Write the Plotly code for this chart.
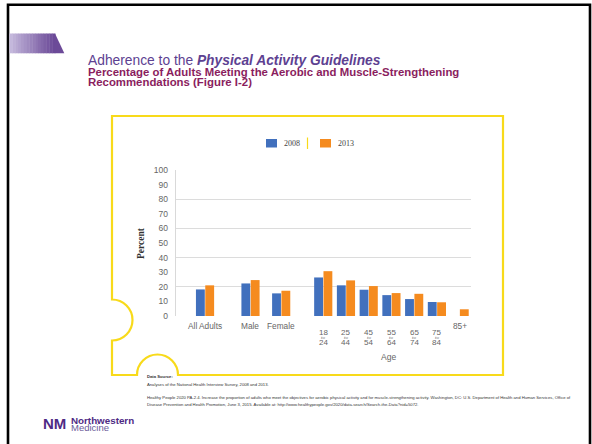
import plotly.graph_objects as go

# ---------------- data ----------------
categories = ["All Adults", "Male", "Female", "18 to 24", "25 to 44", "45 to 54",
              "55 to 64", "65 to 74", "75 to 84", "85+"]
years = ["2008", "2013"]
pct_2008 = [18.2, 22.3, 15.5, 26.4, 21.0, 18.0, 14.3, 11.6, 9.6, None]
pct_2013 = [21.0, 24.6, 17.3, 30.7, 24.4, 20.5, 15.7, 15.2, 9.4, 4.6]
label_top = ["All Adults", "Male", "Female", "18", "25", "45", "55", "65", "75", "85+"]
label_mid = ["", "", "", "to", "to", "to", "to", "to", "to", ""]
label_bot = ["", "", "", "24", "44", "54", "64", "74", "84", ""]
y_ticks = list(range(0, 101, 10))
grid_step = 20

# layout positions of the category slots on the x axis
x_slot = [0, 2, 3.35, 5.2, 6.2, 7.2, 8.2, 9.2, 10.2, 11.2]

# ---------------- geometry ----------------
W, H = 592, 444
ML, MR, MT, MB = 176, 121, 170, 128
PW = W - ML - MR
PH = H - MT - MB


def px(x):
    return (x - ML) / PW


def py(y):
    return (H - MB - y) / PH


BLUE = "#4170bd"
ORANGE = "#f58b1f"
YELLOW = "#f8da1a"
PURPLE = "#5d4191"
MAROON = "#8a1d5e"
SANS = "Liberation Sans, Arial, sans-serif"
SERIF = "Liberation Serif, Times New Roman, serif"
LBL = "#666666"

fig = go.Figure()
fig.add_trace(go.Bar(x=x_slot, y=pct_2008, name=years[0], marker_color=BLUE,
                     marker_line_width=0, showlegend=False,
                     customdata=categories, hovertemplate="%{customdata}: %{y}%<extra>2008</extra>"))
fig.add_trace(go.Bar(x=x_slot, y=pct_2013, name=years[1], marker_color=ORANGE,
                     marker_line_width=0, showlegend=False,
                     customdata=categories, hovertemplate="%{customdata}: %{y}%<extra>2013</extra>"))
# carrier for the labelled overlay axis (draws nothing)
fig.add_trace(go.Scatter(x=[x_slot[0]], y=[y_ticks[0]], yaxis="y2", mode="markers",
                         marker=dict(opacity=0, size=1), hoverinfo="skip", showlegend=False))

fig.update_layout(
    width=W, height=H,
    margin=dict(l=ML, r=MR, t=MT, b=MB, pad=0),
    paper_bgcolor="white", plot_bgcolor="white",
    barmode="group", bargap=0.18, bargroupgap=0.05,
    xaxis=dict(range=[-1.277, 11.70], showticklabels=False, showgrid=False,
               zeroline=False, showline=False, ticks="", automargin=False, fixedrange=True),
    yaxis=dict(range=[0, 100], dtick=grid_step, tick0=0, showgrid=True, gridcolor="#dcdcdc",
               gridwidth=1, zeroline=False, showticklabels=False,
               showline=True, linecolor="#d9d9d9", linewidth=1, ticks="",
               automargin=False, fixedrange=True),
    yaxis2=dict(range=[0, 100], overlaying="y", anchor="x", side="left",
                tickvals=y_ticks, showgrid=False, zeroline=False, showline=False, ticks="",
                ticklabelstandoff=7,
                tickfont=dict(family=SANS, size=8.5, color=LBL),
                automargin=False, fixedrange=True),
    showlegend=False,
)

shapes = []
annotations = []

# slide border
shapes.append(dict(type="rect", xref="paper", yref="paper",
                   x0=px(8), x1=px(590), y0=py(448), y1=py(4.7),
                   line=dict(color="black", width=2.6), fillcolor="rgba(0,0,0,0)"))

# purple banner with gradient (strips)
c0 = (196, 184, 220)
c1 = (108, 74, 152)
n = 16
xa, xb = 9.5, 55
for i in range(n):
    t = i / (n - 1)
    col = "rgb(%d,%d,%d)" % tuple(int(c0[k] + (c1[k] - c0[k]) * t) for k in range(3))
    x0 = xa + (xb - xa) * i / n
    x1 = xa + (xb - xa) * (i + 1) / n + 0.4
    shapes.append(dict(type="rect", xref="paper", yref="paper",
                       x0=px(x0), x1=px(x1), y0=py(53.3), y1=py(33.5),
                       line=dict(width=0), fillcolor=col))
shapes.append(dict(type="path", xref="paper", yref="paper",
                   path="M %f %f L %f %f L %f %f L %f %f Z" % (
                       px(54.8), py(33.5), px(55), py(33.5), px(64.3), py(53.3), px(54.8), py(53.3)),
                   line=dict(width=0), fillcolor="rgb(108,74,152)"))

# yellow frame with notches
r = 20.5
k = 0.5523 * r
bcx, bcy = 157.5, 375
lcx, lcy = 112, 320
pts = [
    ("M", [(112, 116)]),
    ("L", [(503, 116)]),
    ("L", [(503, 375)]),
    ("L", [(bcx + r, bcy)]),
    ("C", [(bcx + r, bcy - k), (bcx + k, bcy - r), (bcx, bcy - r)]),
    ("C", [(bcx - k, bcy - r), (bcx - r, bcy - k), (bcx - r, bcy)]),
    ("L", [(112, 375)]),
    ("L", [(112, lcy + r)]),
    ("C", [(lcx + k, lcy + r), (lcx + r, lcy + k), (lcx + r, lcy)]),
    ("C", [(lcx + r, lcy - k), (lcx + k, lcy - r), (lcx, lcy - r)]),
]
path = ""
for cmd, plist in pts:
    path += cmd + " " + " ".join("%f,%f" % (px(a), py(b)) for a, b in plist) + " "
path += "Z"
shapes.append(dict(type="path", xref="paper", yref="paper", path=path,
                   line=dict(color=YELLOW, width=2.2), fillcolor="rgba(0,0,0,0)"))

# manual legend
leg_x = [266, 320]
leg_cols = [BLUE, ORANGE]
for i, name in enumerate(years):
    shapes.append(dict(type="rect", xref="paper", yref="paper",
                       x0=px(leg_x[i]), x1=px(leg_x[i] + 11), y0=py(147.5), y1=py(139),
                       line=dict(width=0), fillcolor=leg_cols[i]))
    annotations.append(dict(text=name, xref="paper", yref="paper",
                            x=px(leg_x[i] + 15.5), y=py(143.5), xanchor="left", yanchor="middle",
                            showarrow=False, font=dict(family=SERIF, size=8, color="#444444")))
shapes.append(dict(type="line", xref="paper", yref="paper",
                   x0=px(307.5), x1=px(307.5), y0=py(149), y1=py(137.5),
                   line=dict(color=YELLOW, width=1.2)))

# x category labels
for i in range(len(categories)):
    if label_mid[i]:
        annotations.append(dict(text=label_top[i] + "<br>" + label_bot[i], xref="x", yref="paper",
                                x=x_slot[i], y=py(337.1), xanchor="center", yanchor="middle",
                                showarrow=False, font=dict(family=SANS, size=8, color=LBL)))
        annotations.append(dict(text="<i>" + label_mid[i] + "</i>", xref="x", yref="paper",
                                x=x_slot[i], y=py(337.6), xanchor="center", yanchor="middle",
                                showarrow=False,
                                font=dict(family=SERIF, size=5, color=LBL)))
    else:
        annotations.append(dict(text=label_top[i], xref="x", yref="paper", x=x_slot[i],
                                y=py(326), xanchor="center", yanchor="middle", showarrow=False,
                                font=dict(family=SANS, size=8.3, color=LBL)))

annotations.append(dict(text="Age", xref="paper", yref="paper", x=px(388), y=py(357.3),
                        xanchor="center", yanchor="middle", showarrow=False,
                        font=dict(family=SANS, size=8.5, color=LBL)))
annotations.append(dict(text="<b>Percent</b>", xref="paper", yref="paper", x=px(141), y=py(243),
                        xanchor="center", yanchor="middle", textangle=-90, showarrow=False,
                        font=dict(family=SERIF, size=9.5, color="#333333")))

# titles
annotations.append(dict(text="Adherence to the <b><i>Physical Activity Guidelines</i></b>",
                        xref="paper", yref="paper", x=px(85.5), y=py(60.5),
                        xanchor="left", yanchor="middle", showarrow=False,
                        font=dict(family=SANS, size=13.8, color=PURPLE)))
annotations.append(dict(text="<b>Percentage of Adults Meeting the Aerobic and Muscle-Strengthening</b>",
                        xref="paper", yref="paper", x=px(85.5), y=py(72.3),
                        xanchor="left", yanchor="middle", showarrow=False,
                        font=dict(family=SANS, size=11.4, color=MAROON)))
annotations.append(dict(text="<b>Recommendations (Figure I-2)</b>",
                        xref="paper", yref="paper", x=px(85.5), y=py(82),
                        xanchor="left", yanchor="middle", showarrow=False,
                        font=dict(family=SANS, size=11.4, color=MAROON)))

# source text
src = [
    ("<b>Data Source:</b>", 376.3),
    ("Analyses of the National Health Interview Survey, 2008 and 2013.", 384),
    ("Healthy People 2020 PA-2.4. Increase the proportion of adults who meet the objectives for aerobic "
     "physical activity and for muscle-strengthening activity. Washington, DC: U.S. Department of Health "
     "and Human Services, Office of", 397.5),
    ("Disease Prevention and Health Promotion, June 3, 2015. Available at: "
     "http://www.healthypeople.gov/2020/data-search/Search-the-Data?nid=5072.", 404.7),
]
for txt, yy in src:
    annotations.append(dict(text=txt, xref="paper", yref="paper", x=px(144.5), y=py(yy),
                            xanchor="left", yanchor="middle", showarrow=False,
                            font=dict(family=SANS, size=4.2, color="#333333")))

# logo
annotations.append(dict(text="<b>NM</b>", xref="paper", yref="paper", x=px(41), y=py(423.5),
                        xanchor="left", yanchor="middle", showarrow=False,
                        font=dict(family=SANS, size=15, color="#4e2a84")))
annotations.append(dict(text="<b>Northwestern</b>", xref="paper", yref="paper", x=px(69.5), y=py(420.3),
                        xanchor="left", yanchor="middle", showarrow=False,
                        font=dict(family=SANS, size=9.8, color="#4e2a84")))
annotations.append(dict(text="Medicine", xref="paper", yref="paper", x=px(69.5), y=py(427.3),
                        xanchor="left", yanchor="middle", showarrow=False,
                        font=dict(family=SANS, size=9.5, color="#6b5b9a")))

fig.update_layout(shapes=shapes, annotations=annotations)
fig.write_html("out.html")
